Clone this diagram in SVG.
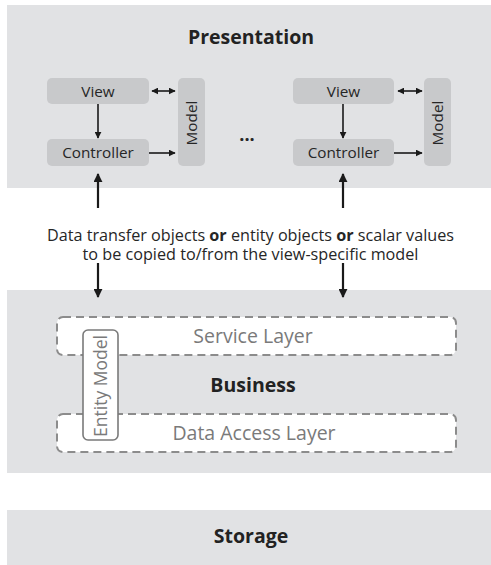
<svg xmlns="http://www.w3.org/2000/svg" width="491" height="565" viewBox="0 0 491 565">
<style>
.panel{fill:#e1e2e4}
.box{fill:#c8c9cb}
.t{font-family:"Open Sans","Noto Sans",sans-serif;fill:#262626}
.title{font-family:"Open Sans","Noto Sans",sans-serif;font-weight:bold;font-size:19.5px;fill:#222;text-anchor:middle}
.lbl{font-size:15.3px;text-anchor:middle}
.dash{fill:#fff;stroke:#8c8c8c;stroke-width:2;stroke-dasharray:8 5}
.gray{font-family:"Open Sans","Noto Sans",sans-serif;fill:#7a7a7a;text-anchor:middle}
.ln{stroke:#1a1a1a;stroke-width:1.6;fill:none}
.lnb{stroke:#1a1a1a;stroke-width:2.2;fill:none}
</style>
<defs>
<marker id="ah" viewBox="0 0 10 10" refX="9" refY="5" markerWidth="7" markerHeight="7" markerUnits="userSpaceOnUse" orient="auto-start-reverse"><path d="M0,0 L10,5 L0,10 z" fill="#1a1a1a"/></marker>
<marker id="ahb" viewBox="0 0 10 10" refX="9" refY="5" markerWidth="9" markerHeight="9" markerUnits="userSpaceOnUse" orient="auto-start-reverse"><path d="M0,0 L10,5 L0,10 z" fill="#1a1a1a"/></marker>
</defs>

<g id="presentation">
<rect class="panel" x="7" y="5" width="484" height="183"/>
<text class="title" x="251" y="44">Presentation</text>
<text class="t" x="247" y="141" font-size="18" font-weight="bold" text-anchor="middle">...</text>
</g>

<g id="view1"><rect class="box" x="47" y="78" width="102" height="26" rx="5"/><text class="t lbl" x="98" y="96.5">View</text></g>
<g id="controller1"><rect class="box" x="47" y="139" width="102" height="27" rx="5"/><text class="t lbl" x="98" y="158">Controller</text></g>
<g id="model1"><rect class="box" x="178" y="78" width="27" height="88" rx="5"/><text class="t lbl" transform="translate(196.5,123) rotate(-90)">Model</text></g>

<g id="view2"><rect class="box" x="293" y="78" width="101" height="26" rx="5"/><text class="t lbl" x="343.5" y="96.5">View</text></g>
<g id="controller2"><rect class="box" x="293" y="139" width="101" height="27" rx="5"/><text class="t lbl" x="343.5" y="158">Controller</text></g>
<g id="model2"><rect class="box" x="424" y="78" width="27" height="88" rx="5"/><text class="t lbl" transform="translate(442.5,123) rotate(-90)">Model</text></g>

<g id="note">
<text class="t" font-size="16.2" text-anchor="middle" x="250.5" y="241">Data transfer objects <tspan font-weight="bold">or</tspan> entity objects <tspan font-weight="bold">or</tspan> scalar values</text>
<text class="t" font-size="16.2" text-anchor="middle" x="250.5" y="260">to be copied to/from the view-specific model</text>
</g>

<g id="business">
<rect class="panel" x="7" y="290" width="484" height="183"/>
<text class="title" x="253" y="392">Business</text>
</g>
<g id="service-layer"><rect class="dash" x="57" y="317" width="399" height="38" rx="6"/><text class="gray" font-size="19.5" x="253" y="343">Service Layer</text></g>
<g id="data-access-layer"><rect class="dash" x="57" y="414" width="399" height="38" rx="6"/><text class="gray" font-size="19.5" x="254" y="440">Data Access Layer</text></g>
<g id="entity-model"><rect x="83" y="330" width="35" height="110" rx="5" fill="#fff" stroke="#7a7a7a" stroke-width="1.6"/><text class="gray" font-size="17.5" transform="translate(107,386) rotate(-90)">Entity Model</text></g>

<g id="storage">
<rect class="panel" x="7" y="510" width="484" height="55"/>
<text class="title" x="251" y="543">Storage</text>
</g>

<g id="connectors">
<line class="ln" x1="98" y1="104" x2="98" y2="138" marker-end="url(#ah)"/>
<line class="ln" x1="152" y1="91" x2="175" y2="91" marker-start="url(#ah)" marker-end="url(#ah)"/>
<line class="ln" x1="149" y1="153" x2="175" y2="153" marker-end="url(#ah)"/>
<line class="ln" x1="343" y1="104" x2="343" y2="138" marker-end="url(#ah)"/>
<line class="ln" x1="398" y1="91" x2="422" y2="91" marker-start="url(#ah)" marker-end="url(#ah)"/>
<line class="ln" x1="394" y1="153" x2="422" y2="153" marker-end="url(#ah)"/>
<line class="lnb" x1="98" y1="208" x2="98" y2="174" marker-end="url(#ahb)"/>
<line class="lnb" x1="343" y1="208" x2="343" y2="174" marker-end="url(#ahb)"/>
<line class="lnb" x1="98" y1="263" x2="98" y2="297" marker-end="url(#ahb)"/>
<line class="lnb" x1="343" y1="263" x2="343" y2="297" marker-end="url(#ahb)"/>
</g>
</svg>
